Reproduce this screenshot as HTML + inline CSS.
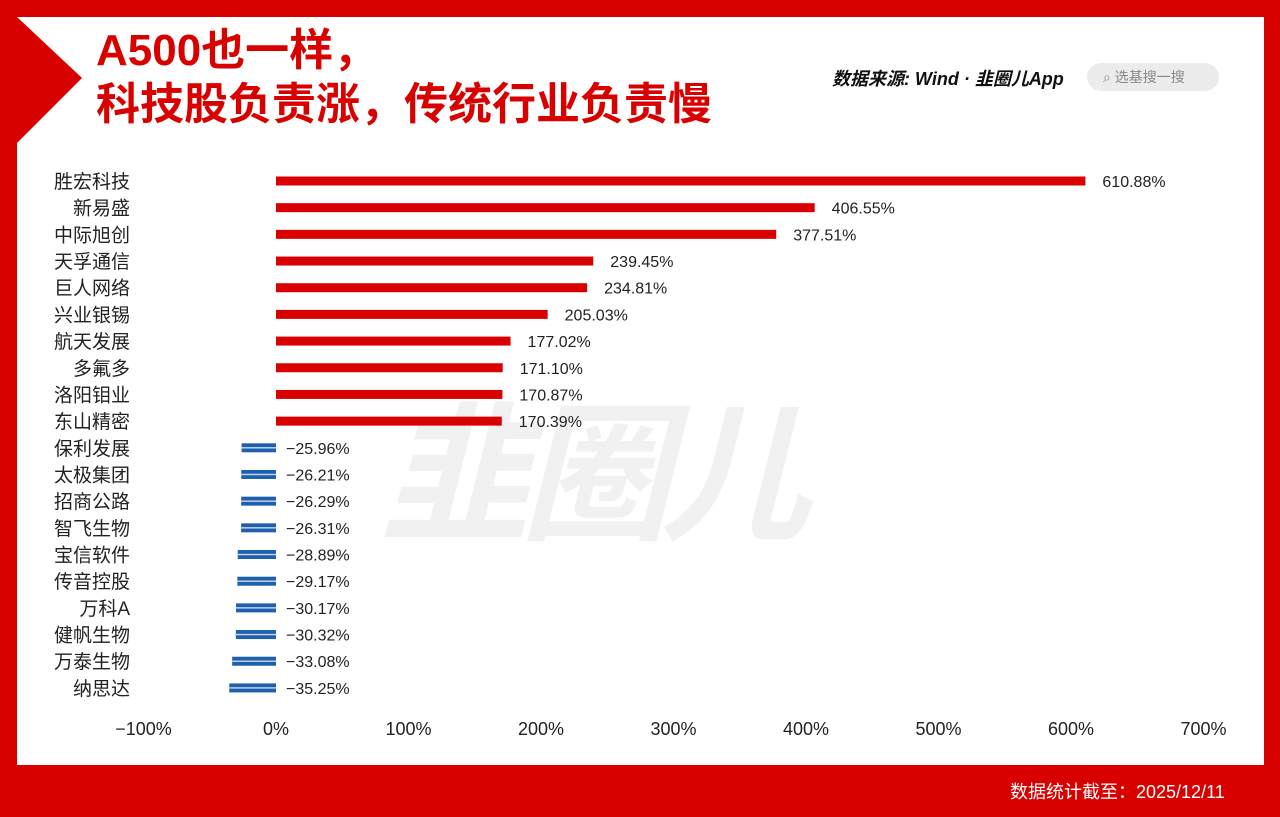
<!DOCTYPE html>
<html><head><meta charset="utf-8"><style>
body{margin:0;width:1280px;height:817px;overflow:hidden;background:#fff;font-family:"Liberation Sans","Noto Sans CJK SC",sans-serif;position:relative}
.abs{position:absolute}
</style></head><body>
<div class="abs" style="left:0;top:0;width:1280px;height:17px;background:#d90000"></div>
<div class="abs" style="left:0;top:0;width:17px;height:817px;background:#d90000"></div>
<div class="abs" style="left:1264px;top:0;width:16px;height:817px;background:#d90000"></div>
<div class="abs" style="left:0;top:765px;width:1280px;height:52px;background:#d90000"></div>
<svg class="abs" style="left:0;top:0" width="100" height="150"><polygon points="17,17 82,78 17,143" fill="#d90000"/></svg>
<div class="abs" style="left:96px;top:24px;color:#d90000;font-size:44px;font-weight:bold;line-height:54px;white-space:nowrap;font-family:'Liberation Sans','Noto Sans CJK SC',sans-serif">A500也一样，<br>科技股负责涨，传统行业负责慢</div>
<div class="abs" style="left:832px;top:65px;font-size:18px;font-weight:bold;font-style:italic;color:#111">数据来源: Wind · 韭圈儿App</div>
<div class="abs" style="left:1087px;top:63px;width:132px;height:28px;border-radius:14px;background:#ececec;color:#888;font-size:14px;line-height:28px;text-indent:16px">⌕ 选基搜一搜</div>
<div class="abs" style="left:380px;top:355px;font-size:150px;font-weight:bold;font-style:italic;color:rgba(200,200,200,0.25);letter-spacing:-10px">韭圈儿</div>
<div class="abs" style="left:1010px;top:778px;color:#fff;font-size:18px">数据统计截至：2025/12/11</div>
<svg class="abs" style="left:0;top:0" width="1280" height="817" id="chart"></svg>
<script>
const categories=["胜宏科技","新易盛","中际旭创","天孚通信","巨人网络","兴业银锡","航天发展","多氟多","洛阳钼业","东山精密","保利发展","太极集团","招商公路","智飞生物","宝信软件","传音控股","万科A","健帆生物","万泰生物","纳思达"];
const values=[610.88,406.55,377.51,239.45,234.81,205.03,177.02,171.10,170.87,170.39,-25.96,-26.21,-26.29,-26.31,-28.89,-29.17,-30.17,-30.32,-33.08,-35.25];
const ticks=[-100,0,100,200,300,400,500,600,700];
const svg=document.getElementById('chart');const NS='http://www.w3.org/2000/svg';
const x=v=>276+v*1.325;const y=i=>181+i*26.68;
function mk(t,a){const e=document.createElementNS(NS,t);for(const k in a)e.setAttribute(k,a[k]);svg.appendChild(e);return e;}
categories.forEach((c,i)=>{
 const v=values[i];
 const t=mk('text',{x:130,y:y(i)+7,'text-anchor':'end','font-size':19,fill:'#222'});t.textContent=c;
 
 
 const x0=Math.min(x(0),x(v)),w=Math.abs(x(v)-x(0));
 const b=mk('rect',{x:x0,y:y(i)-4.5,width:w,height:9,fill:v>=0?'#d90000':'#1f5fae'});
 
 
 if(v<0){const l=mk('rect',{x:x0,y:y(i)-0.7,width:w,height:1.4,fill:'#c8d8ea'});
  
  }
 const lx=v>=0?x(v)+17:286;
 const vl=mk('text',{x:lx,y:y(i)+6,'font-size':16,fill:'#222'});vl.textContent=(v<0?'−':'')+Math.abs(v).toFixed(2)+'%';
 
 
});
ticks.forEach(t=>{const e=mk('text',{x:x(t),y:735,'text-anchor':'middle','font-size':18,fill:'#222'});e.textContent=(t<0?'−':'')+Math.abs(t)+'%';
 
 });
</script>
</body></html>
